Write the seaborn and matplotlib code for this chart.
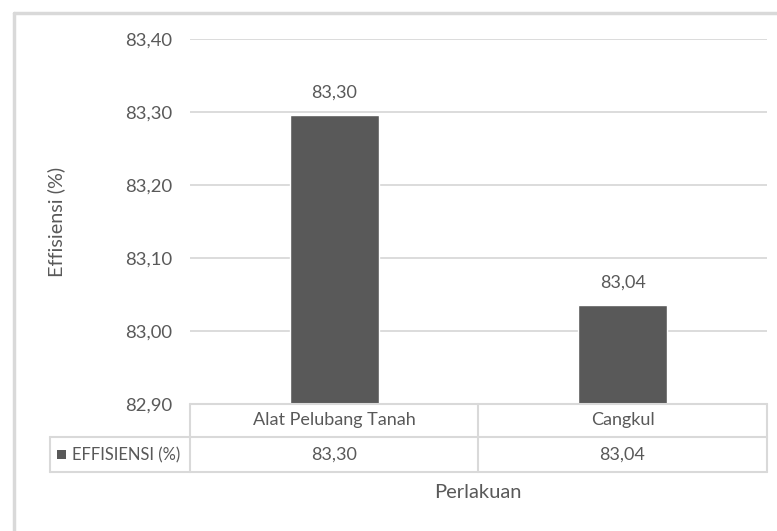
import pandas as pd
import seaborn as sns
import matplotlib.pyplot as plt
from matplotlib.lines import Line2D
from matplotlib.patches import Rectangle

# data
perlakuan = ['Alat Pelubang Tanah', 'Cangkul']
effisiensi = [83.296, 83.036]
value_labels = ['83,30', '83,04']
yticks = [82.90, 83.00, 83.10, 83.20, 83.30, 83.40]

df = pd.DataFrame({'Perlakuan': perlakuan, 'Effisiensi': effisiensi})

sns.set_theme(style='white')
plt.rcParams['font.family'] = ['Lato', 'DejaVu Sans']

W, H = 777, 531
fig = plt.figure(figsize=(W / 100, H / 100), dpi=100)
fig.patch.set_facecolor('white')

def fx(x):
    return x / W

def fy(y):
    return 1 - y / H

# plot area in pixels
L, R, T, B = 190, 767, 39, 404
ax = fig.add_axes([fx(L), fy(B), fx(R) - fx(L), fy(T) - fy(B)])

bar_col = '#595959'
txt_col = '#595959'
grid_col = '#d9d9d9'

sns.barplot(data=df, x='Perlakuan', y='Effisiensi', color=bar_col,
            width=0.31, saturation=1, ax=ax)
ax.set_ylim(yticks[0], yticks[-1])
ax.set_xlim(-0.5, 1.5)
ax.set_yticks(yticks)
ax.set_yticklabels([f'{v:.2f}'.replace('.', ',') for v in yticks],
                   color=txt_col, fontsize=13.3)
ax.tick_params(axis='y', length=0, pad=13)
ax.set_xticks([])
ax.set_xlabel('')
ax.set_ylabel('')
for s in ax.spines.values():
    s.set_visible(False)
ax.grid(axis='y', color=grid_col, lw=1.3)
ax.set_axisbelow(True)

# value labels above bars
for i, (v, lab) in enumerate(zip(effisiensi, value_labels)):
    ax.annotate(lab, (i, v), xytext=(0, 10), textcoords='offset points',
                ha='center', va='bottom', color=txt_col, fontsize=13)

# data table below the chart
lines = [
    ((L, R), (B, B)),
    ((50, R), (437, 437)),
    ((50, R), (472, 472)),
    ((50, 50), (437, 472)),
    ((L, L), (B, 472)),
    ((478, 478), (B, 472)),
    ((R, R), (B, 472)),
]
for xs, ys in lines:
    fig.add_artist(Line2D([fx(x) for x in xs], [fy(y) for y in ys],
                          color=grid_col, lw=1.5))

cell_centers = [(L + 478) / 2, (478 + R) / 2]
for cx, name, lab in zip(cell_centers, perlakuan, value_labels):
    fig.text(fx(cx), fy(420), name, ha='center', va='center',
             color=txt_col, fontsize=13)
    fig.text(fx(cx), fy(455), lab, ha='center', va='center',
             color=txt_col, fontsize=13)

fig.add_artist(Rectangle((fx(57), fy(459)), fx(9), fy(450) - fy(459),
                         color=bar_col, lw=0))
fig.text(fx(72), fy(455), 'EFFISIENSI (%)', ha='left', va='center',
         color=txt_col, fontsize=11.9)

# axis titles
fig.text(fx(478), fy(493), 'Perlakuan', ha='center', va='center',
         color=txt_col, fontsize=14.5)
fig.text(fx(56), fy(222), 'Effisiensi (%)', ha='center', va='center',
         rotation=90, color=txt_col, fontsize=14.3)

# chart border
fig.add_artist(Line2D([fx(14), fx(W)], [fy(13), fy(13)], color=grid_col, lw=2.5))
fig.add_artist(Line2D([fx(14), fx(14)], [fy(13), fy(H)], color=grid_col, lw=2.5))

fig.savefig('out.png', dpi=100)
